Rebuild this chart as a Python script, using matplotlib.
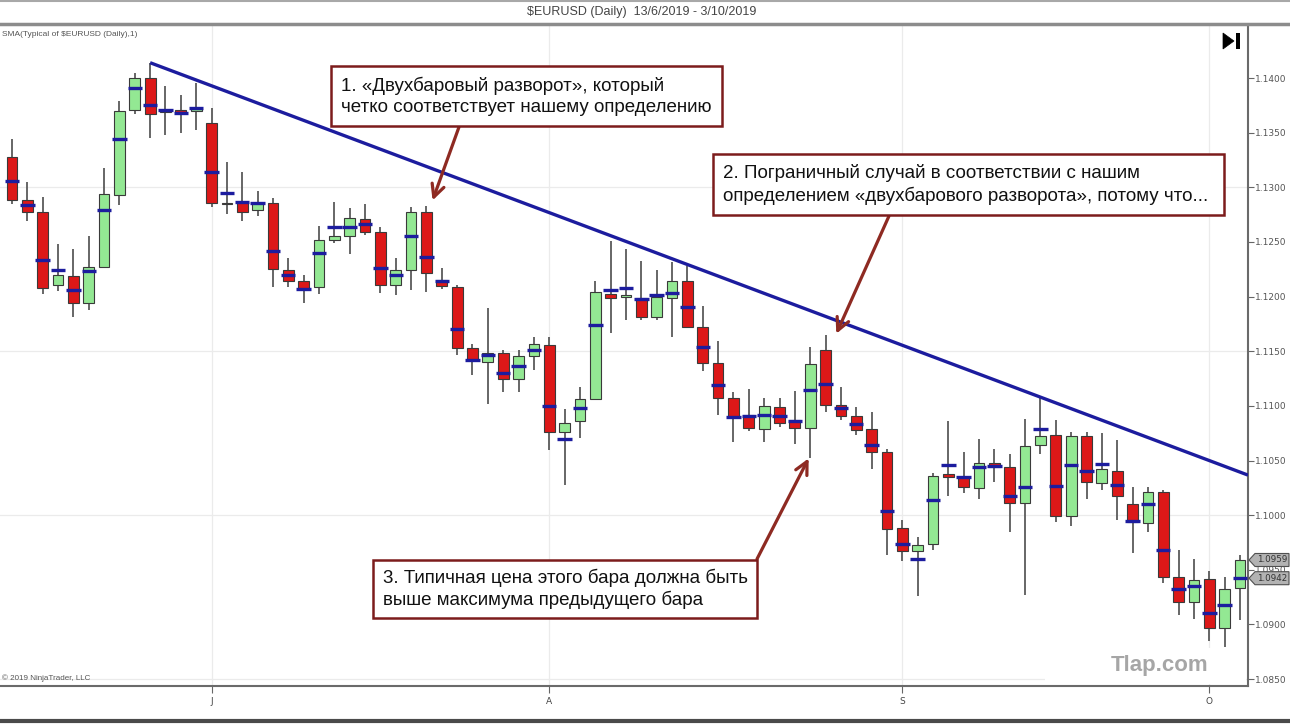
import matplotlib
matplotlib.use("Agg")
import matplotlib.pyplot as plt
import matplotlib.transforms as mtransforms
from matplotlib.patches import Rectangle, Polygon
from matplotlib.lines import Line2D

# ---------------- data (EURUSD daily, 13/6/2019 - 3/10/2019) ----------------
opens = [1.1328, 1.1288, 1.1277, 1.1211, 1.1219, 1.1194, 1.1227, 1.1293, 1.1371, 1.1400,
         1.1369, 1.1371, 1.1370, 1.1359, 1.1286, 1.1287, 1.1279, 1.1286, 1.1224, 1.1214,
         1.1209, 1.1252, 1.1255, 1.1271, 1.1259, 1.1211, 1.1224, 1.1277, 1.1215, 1.1209,
         1.1153, 1.1140, 1.1148, 1.1125, 1.1146, 1.1156, 1.1076, 1.1086, 1.1106, 1.1202,
         1.1200, 1.1199, 1.1181, 1.1199, 1.1214, 1.1172, 1.1139, 1.1107, 1.1092, 1.1079,
         1.1099, 1.1087, 1.1080, 1.1151, 1.1101, 1.1091, 1.1079, 1.1058, 1.0988, 1.0967,
         1.0974, 1.1038, 1.1035, 1.1025, 1.1048, 1.1044, 1.1011, 1.1064, 1.1073, 1.0999,
         1.1072, 1.1029, 1.1040, 1.1010, 1.0993, 1.1021, 1.0943, 1.0921, 1.0942, 1.0897,
         1.0933]
highs = [1.1344, 1.1305, 1.1291, 1.1248, 1.1244, 1.1255, 1.1318, 1.1379, 1.1405, 1.1414,
         1.1393, 1.1384, 1.1395, 1.1373, 1.1323, 1.1314, 1.1297, 1.1290, 1.1235, 1.1220,
         1.1265, 1.1287, 1.1281, 1.1285, 1.1264, 1.1235, 1.1282, 1.1283, 1.1226, 1.1211,
         1.1157, 1.1190, 1.1151, 1.1151, 1.1163, 1.1163, 1.1097, 1.1117, 1.1214, 1.1251,
         1.1244, 1.1233, 1.1224, 1.1232, 1.1228, 1.1191, 1.1159, 1.1113, 1.1115, 1.1107,
         1.1107, 1.1114, 1.1154, 1.1165, 1.1117, 1.1099, 1.1094, 1.1061, 1.0996, 1.0980,
         1.1039, 1.1086, 1.1058, 1.1070, 1.1061, 1.1056, 1.1088, 1.1108, 1.1087, 1.1076,
         1.1076, 1.1075, 1.1069, 1.1026, 1.1026, 1.1023, 1.0968, 1.0960, 1.0949, 1.0943,
         1.0964]
lows = [1.1285, 1.1269, 1.1202, 1.1205, 1.1181, 1.1188, 1.1226, 1.1284, 1.1367, 1.1345,
        1.1348, 1.1350, 1.1352, 1.1282, 1.1276, 1.1269, 1.1274, 1.1209, 1.1209, 1.1194,
        1.1202, 1.1249, 1.1239, 1.1256, 1.1203, 1.1201, 1.1206, 1.1204, 1.1207, 1.1147,
        1.1128, 1.1102, 1.1113, 1.1113, 1.1133, 1.1060, 1.1028, 1.1071, 1.1105, 1.1167,
        1.1179, 1.1179, 1.1179, 1.1163, 1.1171, 1.1132, 1.1092, 1.1067, 1.1077, 1.1067,
        1.1081, 1.1065, 1.1052, 1.1094, 1.1087, 1.1073, 1.1042, 1.0964, 1.0958, 1.0926,
        1.0968, 1.1018, 1.1020, 1.1015, 1.1030, 1.0985, 1.0927, 1.1056, 1.0994, 1.0990,
        1.1015, 1.1023, 1.0996, 1.0965, 1.0985, 1.0938, 1.0909, 1.0905, 1.0885, 1.0879,
        1.0904]
closes = [1.1288, 1.1277, 1.1208, 1.1220, 1.1194, 1.1227, 1.1294, 1.1370, 1.1400, 1.1367,
          1.1371, 1.1369, 1.1372, 1.1286, 1.1285, 1.1277, 1.1286, 1.1225, 1.1214, 1.1207,
          1.1252, 1.1255, 1.1272, 1.1259, 1.1211, 1.1224, 1.1277, 1.1222, 1.1210, 1.1153,
          1.1142, 1.1148, 1.1125, 1.1146, 1.1157, 1.1076, 1.1084, 1.1106, 1.1204, 1.1199,
          1.1201, 1.1181, 1.1200, 1.1214, 1.1172, 1.1139, 1.1107, 1.1090, 1.1080, 1.1100,
          1.1084, 1.1080, 1.1138, 1.1101, 1.1091, 1.1078, 1.1058, 1.0987, 1.0967, 1.0973,
          1.1036, 1.1035, 1.1026, 1.1048, 1.1044, 1.1011, 1.1063, 1.1072, 1.0999, 1.1072,
          1.1030, 1.1042, 1.1018, 1.0994, 1.1021, 1.0943, 1.0921, 1.0941, 1.0897, 1.0932,
          1.0959]

month_labels = ["J", "A", "S", "O"]
month_bars = [13, 35, 58, 78]
price_ticks = [1.0850, 1.0900, 1.0950, 1.1000, 1.1050, 1.1100, 1.1150,
               1.1200, 1.1250, 1.1300, 1.1350, 1.1400]
grid_prices = [1.0850, 1.1000, 1.1150, 1.1300]

# trend line through two bar highs
trend_bars = [9, 67]
trend_prices = [1.1414, 1.1108]

note1 = "1. «Двухбаровый разворот», который\nчетко соответствует нашему определению"
note2 = "2. Пограничный случай в соответствии с нашим\nопределением «двухбарового разворота», потому что..."
note3 = "3. Типичная цена этого бара должна быть\nвыше максимума предыдущего бара"

# ---------------- figure ----------------
W, H = 1290, 724
fig = plt.figure(figsize=(W / 100, H / 100), dpi=100)
fig.patch.set_facecolor("white")


def fx(x):
    return x / W


def fy(y):
    return 1 - y / H


ax = fig.add_axes([0, fy(686), fx(1248), (686 - 25) / H])
ax.set_facecolor("white")

n = len(closes)
xs = list(range(n))
typical = [(h + l + c) / 3 for h, l, c in zip(highs, lows, closes)]

RED = "#dc1818"
GREEN = "#93e893"
EDGE = "#3a3a3a"
BLUE = "#1c1c9e"

for x, o, h, l, c in zip(xs, opens, highs, lows, closes):
    ax.vlines(x, l, h, color="#5a5a5a", lw=1.3, zorder=2)
    lo, hi = min(o, c), max(o, c)
    ax.add_patch(Rectangle((x - 0.35, lo), 0.70, max(hi - lo, 0.00005),
                           facecolor=RED if c < o else GREEN,
                           edgecolor=EDGE, lw=0.8, zorder=3))
ax.hlines(typical, [x - 0.47 for x in xs], [x + 0.47 for x in xs],
          color=BLUE, lw=2.4, zorder=4)

# trend line extended to right edge
xlim = (-0.78, 80.52)
slope = (trend_prices[1] - trend_prices[0]) / (trend_bars[1] - trend_bars[0])
ax.plot([trend_bars[0], xlim[1]],
        [trend_prices[0], trend_prices[0] + slope * (xlim[1] - trend_bars[0])],
        color=BLUE, lw=2.4, zorder=5, solid_capstyle="butt")

ax.set_xlim(*xlim)
ax.set_ylim(1.08437, 1.14485)

for gp in grid_prices:
    ax.axhline(gp, color="#ebebeb", lw=0.9, zorder=0)
for mb in month_bars:
    ax.axvline(mb, color="#ebebeb", lw=0.9, zorder=0)

ax.yaxis.tick_right()
ax.set_yticks(price_ticks)
ax.set_yticklabels([f"{p:.4f}" for p in price_ticks])
ax.tick_params(axis="y", direction="out", length=4, width=0.8, color="#666",
               labelsize=6.5, labelcolor="#555", pad=1)
ax.set_xticks(month_bars)
ax.set_xticklabels(month_labels)
ax.tick_params(axis="x", direction="out", length=5, width=0.8, color="#666",
               labelsize=6.5, labelcolor="#444", pad=3)
for s in ("left", "top"):
    ax.spines[s].set_visible(False)
for s in ("right", "bottom"):
    ax.spines[s].set_color("#6a6a6a")
    ax.spines[s].set_linewidth(1.5)

# price flags on right axis
flag_tr = mtransforms.blended_transform_factory(fig.transFigure, ax.transData)
half = 6.5 * (1.14485 - 1.08437) / 661
for val in (closes[-1], typical[-1]):
    poly = Polygon([(fx(1249), val), (fx(1255), val + half), (fx(1289), val + half),
                    (fx(1289), val - half), (fx(1255), val - half)],
                   closed=True, transform=flag_tr, facecolor="#b3b3b3",
                   edgecolor="#505050", lw=0.8, clip_on=False, zorder=20)
    fig.add_artist(poly)
    fig.text(fx(1272), 0, f"{val:.4f}", transform=flag_tr, ha="center", va="center",
             fontsize=6.3, color="#333", zorder=21).set_y(val)

# ---------------- chrome ----------------
fig.add_artist(Line2D([0, 1], [fy(1), fy(1)], color="#a8a8a8", lw=1.5))
fig.add_artist(Line2D([0, 1], [fy(24), fy(24)], color="#8c8c8c", lw=2.5))
fig.add_artist(Line2D([0, 1], [fy(721), fy(721)], color="#4a4a4a", lw=3))
fig.text(fx(642), fy(12), "$EURUSD (Daily)  13/6/2019 - 3/10/2019", ha="center",
         va="center", fontsize=9, color="#444", parse_math=False,
         family=["Liberation Sans", "DejaVu Sans"])
fig.text(fx(2), fy(35), "SMA(Typical of $EURUSD (Daily),1)", ha="left", va="center",
         fontsize=6, color="#555", parse_math=False,
         family=["Liberation Sans", "DejaVu Sans"])
fig.text(fx(2), fy(678), "© 2019 NinjaTrader, LLC", ha="left", va="center",
         fontsize=5.8, color="#555", family=["Liberation Sans", "DejaVu Sans"])

# watermark
fig.add_artist(Rectangle((fx(1045), fy(684)), fx(1246) - fx(1045), (684 - 648) / H,
                         transform=fig.transFigure, facecolor="white", edgecolor="none",
                         zorder=15))
fig.text(fx(1160), fy(665), "Tlap.com", ha="center", va="center", fontsize=16,
         color="#a6a6a6", fontweight="bold", zorder=16,
         family=["Liberation Sans", "DejaVu Sans"])

# go-to-end icon
fig.add_artist(Polygon([(fx(1223), fy(33)), (fx(1223), fy(49)), (fx(1234), fy(41))],
                       closed=True, transform=fig.transFigure, facecolor="black",
                       edgecolor="black", lw=0.5, zorder=20))
fig.add_artist(Rectangle((fx(1236), fy(49)), fx(4), 16 / H, transform=fig.transFigure,
                         facecolor="black", edgecolor="none", zorder=20))

# ---------------- annotations ----------------
BOX = "#7c1c1c"
ARROW = "#8e2a22"
font_note = ["Liberation Sans", "DejaVu Sans"]


def note_box(x0, y0, x1, y1, text):
    fig.add_artist(Rectangle((fx(x0), fy(y1)), fx(x1) - fx(x0), (y1 - y0) / H,
                             transform=fig.transFigure, facecolor="white",
                             edgecolor=BOX, lw=1.8, zorder=30))
    fig.text(fx(x0 + 10), fy((y0 + y1) / 2), text, ha="left", va="center",
             fontsize=13.5, linespacing=1.3, color="#111", zorder=31, family=font_note)


note_box(331, 66, 722, 126, note1)
note_box(713, 154, 1224, 215, note2)
note_box(373, 560, 757, 618, note3)

arrow_kw = dict(arrowstyle="->,head_length=0.9,head_width=0.45", color=ARROW, lw=2.3,
                shrinkA=0, shrinkB=0)
ax.annotate("", xy=(27.4, 1.1288), xycoords="data", xytext=(fx(459), fy(127)),
            textcoords="figure fraction", arrowprops=arrow_kw, zorder=29)
ax.annotate("", xy=(53.7, 1.1166), xycoords="data", xytext=(fx(889), fy(216)),
            textcoords="figure fraction", arrowprops=arrow_kw, zorder=29)
ax.annotate("", xy=(51.9, 1.1052), xycoords="data", xytext=(fx(757), fy(559)),
            textcoords="figure fraction", arrowprops=arrow_kw, zorder=29)

fig.savefig("out.png", dpi=100, facecolor="white")
